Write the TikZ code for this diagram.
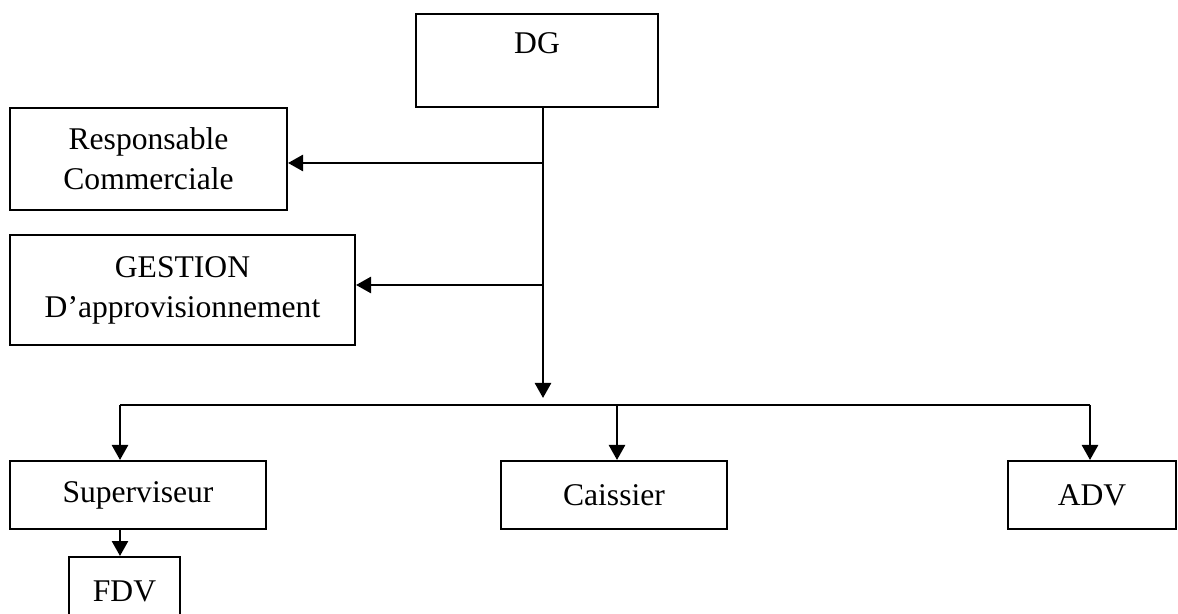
\documentclass[tikz,border=0pt]{standalone}
\usepackage{fontspec}
\setmainfont{Liberation Serif}
\usetikzlibrary{arrows.meta}

\begin{document}
\begin{tikzpicture}[x=0.5pt,y=-0.5pt,
  txt/.style={font=\fontsize{15.8}{20}\selectfont, align=center, inner sep=0pt},
  box/.style={txt, draw, line width=1pt, rectangle},
  link/.style={line width=1.3pt, -{Triangle[width=8pt,length=7.5pt]}},
  bus/.style={line width=0.8pt}]
  \useasboundingbox (0,0) rectangle (1178,614);
  \fill[white] (0,0) rectangle (1178,614);

  % boxes of the organisation chart
  \node[box, minimum width=121pt, minimum height=46.5pt] (dg) at (537,60.5) {};
  \node[txt] (dgtext) at (537,43) {DG};
  \node[box, minimum width=138.5pt, minimum height=51pt] (resp) at (148.5,159) {Responsable\\Commerciale};
  \node[box, minimum width=172.5pt, minimum height=55pt] (gest) at (182.5,290) {GESTION\\D’approvisionnement};
  \node[box, minimum width=128pt, minimum height=34pt] (sup) at (138,495) {Superviseur};
  \node[box, minimum width=113pt, minimum height=34pt] (cai) at (614,495) {Caissier};
  \node[box, minimum width=84pt, minimum height=34pt] (adv) at (1092,495) {ADV};
  \node[box, minimum width=55.5pt, minimum height=34pt] (fdv) at (124.5,591) {FDV};

  % junction points on the trunk and the distribution bus
  \coordinate (tr) at (543,163);
  \coordinate (tg) at (543,285);
  \coordinate (trunkend) at (543,398);
  \coordinate (bl) at (120,405);
  \coordinate (bm) at (617,405);
  \coordinate (br) at (1090,405);

  % trunk from the DG with its side branches
  \draw[link] (dg.south -| tr) -- (trunkend);
  \draw[link] (tr) -- (tr -| resp.east);
  \draw[link] (tg) -- (tg -| gest.east);

  % horizontal bus and drops
  \draw[bus] (bl) -- (br);
  \draw[link] (bl) -- (bl |- sup.north);
  \draw[link] (bm) -- (bm |- cai.north);
  \draw[link] (br) -- (br |- adv.north);
  \draw[link] (sup.south -| bl) -- (fdv.north -| bl);
\end{tikzpicture}
\end{document}
